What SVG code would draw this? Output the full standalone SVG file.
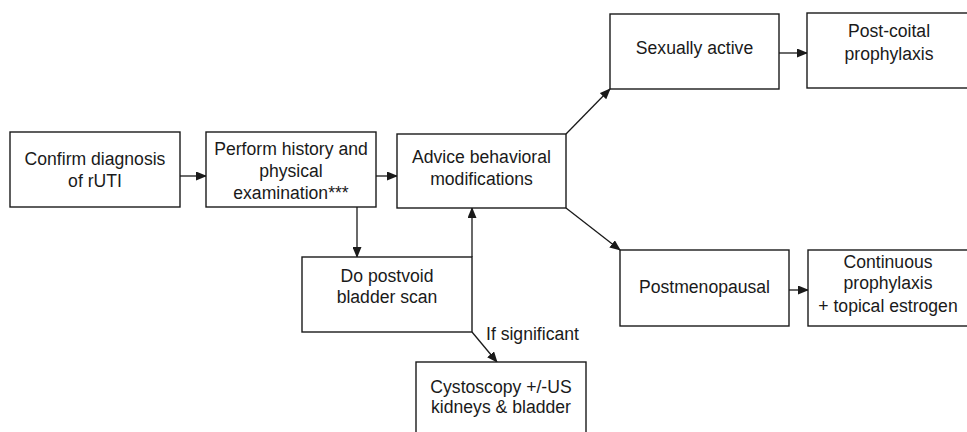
<svg xmlns="http://www.w3.org/2000/svg" width="967" height="432" viewBox="0 0 967 432">
<style>
.box{fill:#fff;stroke:#1a1a1a;stroke-width:1.4}
.t{font-family:"Liberation Sans",Arial,sans-serif;font-size:17.6px;fill:#1a1a1a;text-anchor:middle}
.l{font-family:"Liberation Sans",Arial,sans-serif;font-size:17.6px;fill:#1a1a1a}
.c{stroke:#1a1a1a;stroke-width:1.3;fill:none;marker-end:url(#ah)}
</style>
<defs>
<marker id="ah" markerUnits="userSpaceOnUse" markerWidth="11" markerHeight="9" refX="10" refY="4.5" orient="auto">
<path d="M0,0 L11,4.5 L0,9 z" fill="#1a1a1a"/>
</marker>
</defs>
<rect width="967" height="432" fill="#fff"/>
<g id="connectors">
<line class="c" x1="180" y1="176" x2="206" y2="176"/>
<line class="c" x1="376" y1="176" x2="397" y2="176"/>
<line class="c" x1="357" y1="207" x2="357" y2="257"/>
<line class="c" x1="472" y1="257" x2="472" y2="208"/>
<line class="c" x1="472" y1="332" x2="497" y2="362"/>
<line class="c" x1="566" y1="134" x2="610" y2="89"/>
<line class="c" x1="779" y1="53" x2="807" y2="53"/>
<line class="c" x1="566" y1="208" x2="620" y2="250"/>
<line class="c" x1="789" y1="290" x2="808" y2="290"/>
</g>
<g id="confirm">
<rect class="box" x="10" y="132" width="170" height="75"/>
<text class="t" x="95" y="165">Confirm diagnosis</text>
<text class="t" x="95" y="187">of rUTI</text>
</g>
<g id="perform">
<rect class="box" x="206" y="132" width="170" height="75"/>
<text class="t" x="291" y="155">Perform history and</text>
<text class="t" x="291" y="177">physical</text>
<text class="t" x="291" y="199">examination***</text>
</g>
<g id="advice">
<rect class="box" x="397" y="134" width="169" height="74"/>
<text class="t" x="481.5" y="163">Advice behavioral</text>
<text class="t" x="481.5" y="185">modifications</text>
</g>
<g id="postvoid">
<rect class="box" x="302" y="257" width="170" height="75"/>
<text class="t" x="387" y="282">Do postvoid</text>
<text class="t" x="387" y="303">bladder scan</text>
</g>
<g id="cystoscopy">
<rect class="box" x="416" y="362" width="170" height="76"/>
<text class="t" x="501" y="393">Cystoscopy +/-US</text>
<text class="t" x="501" y="413">kidneys &amp; bladder</text>
</g>
<g id="label-if-significant">
<text class="l" x="486" y="340">If significant</text>
</g>
<g id="sexually-active">
<rect class="box" x="610" y="14" width="169" height="75"/>
<text class="t" x="694.5" y="54">Sexually active</text>
</g>
<g id="post-coital">
<rect class="box" x="807" y="13" width="164" height="75"/>
<text class="t" x="889" y="37">Post-coital</text>
<text class="t" x="889" y="60">prophylaxis</text>
</g>
<g id="postmenopausal">
<rect class="box" x="620" y="250" width="169" height="76"/>
<text class="t" x="704.5" y="293">Postmenopausal</text>
</g>
<g id="continuous">
<rect class="box" x="808" y="250" width="162" height="76"/>
<text class="t" x="888" y="268">Continuous</text>
<text class="t" x="888" y="289">prophylaxis</text>
<text class="t" x="888" y="312">+ topical estrogen</text>
</g>
</svg>
